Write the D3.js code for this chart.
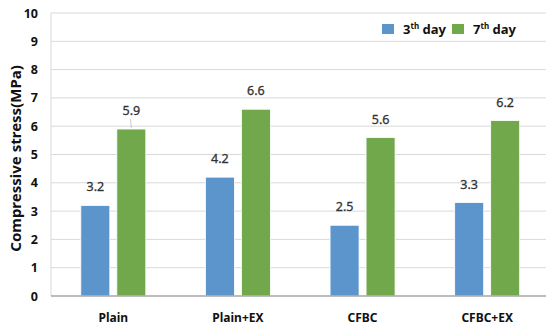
<!DOCTYPE html>
<html>
<head>
<meta charset="utf-8">
<script src="https://cdn.jsdelivr.net/npm/d3@7"></script>
<style>
  body { margin: 0; background: #fff; }
  svg { display: block; font-family: "Noto Sans", "DejaVu Sans", sans-serif; }
</style>
</head>
<body>
<script>
// data
const categories = ["Plain", "Plain+EX", "CFBC", "CFBC+EX"];
const day3 = [3.2, 4.2, 2.5, 3.3];
const day7 = [5.9, 6.6, 5.6, 6.2];
const yTicks = [0, 1, 2, 3, 4, 5, 6, 7, 8, 9, 10];

const width = 546, height = 328;
const margin = { left: 51, top: 13, bottom: 296 };

const svg = d3.select("body").append("svg")
  .attr("width", width)
  .attr("height", height);

const x = d3.scaleBand().domain(categories).range([margin.left, 549.5]);
const y = d3.scaleLinear().domain([0, 10]).range([margin.bottom, margin.top]);

// gridlines
svg.append("g").selectAll("line")
  .data(yTicks.slice(1))
  .join("line")
  .attr("x1", margin.left).attr("x2", width)
  .attr("y1", d => y(d)).attr("y2", d => y(d))
  .attr("stroke", "#d9d9d9").attr("stroke-width", 1);

// left axis line
svg.append("line")
  .attr("x1", margin.left).attr("x2", margin.left)
  .attr("y1", y(10)).attr("y2", y(0))
  .attr("stroke", "#d9d9d9");

// y tick labels
svg.append("g").selectAll("text")
  .data(yTicks)
  .join("text")
  .attr("x", 38)
  .attr("y", d => y(d) + 4.5)
  .attr("text-anchor", "end")
  .attr("font-size", 12.5)
  .attr("font-weight", "bold")
  .attr("fill", "#111")
  .text(d => d);

// y title
svg.append("text")
  .attr("transform", `translate(21,${(y(0) + y(10)) / 2 + 4}) rotate(-90)`)
  .attr("text-anchor", "middle")
  .attr("font-size", 15)
  .attr("font-weight", "bold")
  .attr("fill", "#111")
  .text("Compressive stress(MPa)");

const bw = 29;
const gap = 7;

const series = [
  { name: "3", values: day3, color: "#5B95CC", off: -gap / 2 - bw },
  { name: "7", values: day7, color: "#70A84B", off: gap / 2 }
];

series.forEach(s => {
  const g = svg.append("g");
  g.selectAll("rect")
    .data(categories)
    .join("rect")
    .attr("x", (c) => x(c) + x.bandwidth() / 2 + s.off)
    .attr("y", (c, i) => y(s.values[i]))
    .attr("width", bw)
    .attr("height", (c, i) => y(0) - y(s.values[i]))
    .attr("fill", s.color)
    .attr("stroke", "#fff")
    .attr("stroke-width", 0.8);
  g.selectAll("text")
    .data(categories)
    .join("text")
    .attr("x", (c) => x(c) + x.bandwidth() / 2 + s.off + bw / 2)
    .attr("y", (c, i) => y(s.values[i]) - 14)
    .attr("text-anchor", "middle")
    .attr("font-size", 12.5)
    .attr("fill", "#333")
    .attr("stroke", "#333")
    .attr("stroke-width", 0.3)
    .text((c, i) => s.values[i].toFixed(1));
});

// leader line on Plain 7th day label
svg.append("line")
  .attr("x1", x("Plain") + x.bandwidth() / 2 + gap / 2 + bw / 2 - 1)
  .attr("x2", x("Plain") + x.bandwidth() / 2 + gap / 2 + bw / 2)
  .attr("y1", y(day7[0]) - 10).attr("y2", y(day7[0]) - 1)
  .attr("stroke", "#bfbfbf").attr("stroke-width", 0.8);

// x axis line
svg.append("line")
  .attr("x1", margin.left).attr("x2", width)
  .attr("y1", y(0)).attr("y2", y(0))
  .attr("stroke", "#a6a6a6").attr("stroke-width", 1.5);

// category labels
svg.append("g").selectAll("text")
  .data(categories)
  .join("text")
  .attr("x", c => x(c) + x.bandwidth() / 2)
  .attr("y", 322)
  .attr("text-anchor", "middle")
  .attr("font-size", 12)
  .attr("font-weight", "bold")
  .attr("fill", "#111")
  .text(c => c);

// legend
const legend = svg.append("g");
const legendX = [382, 452];
series.forEach((s, i) => {
  legend.append("rect")
    .attr("x", legendX[i]).attr("y", 24)
    .attr("width", 12).attr("height", 10)
    .attr("fill", s.color);
  const t = legend.append("text")
    .attr("x", legendX[i] + 21).attr("y", 34)
    .attr("font-size", 13)
    .attr("font-weight", "bold")
    .attr("fill", "#111");
  t.append("tspan").text(s.name);
  t.append("tspan").attr("font-size", 8).attr("dy", -5).text("th");
  t.append("tspan").attr("dy", 5).text(" day");
});
</script>
</body>
</html>
